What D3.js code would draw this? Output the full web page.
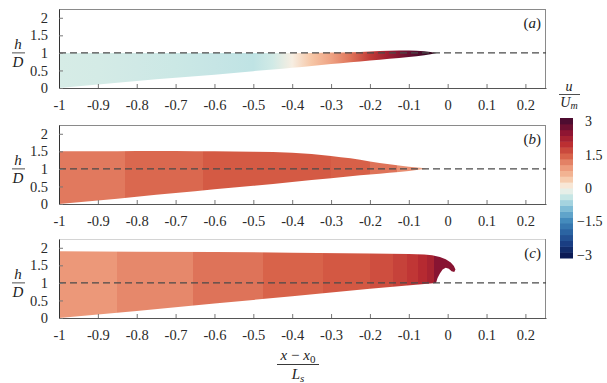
<!DOCTYPE html>
<html>
<head>
<meta charset="utf-8">
<script src="https://cdn.jsdelivr.net/npm/d3@7"></script>
<style>
  body { margin: 0; background: #fff; }
  svg { display: block; }
</style>
</head>
<body>
<div id="chart"></div>
<script>
// ---- tick values / labels
const xTicks = [-1, -0.9, -0.8, -0.7, -0.6, -0.5, -0.4, -0.3, -0.2, -0.1, 0, 0.1, 0.2]
const xTickLabels = ["-1", "-0.9", "-0.8", "-0.7", "-0.6", "-0.5", "-0.4", "-0.3", "-0.2", "-0.1", "0", "0.1", "0.2"]
const yTicks = [0, 0.5, 1, 1.5, 2]
const yTickLabels = ["0", "0.5", "1", "1.5", "2"]
const cbarTicks = [3, 1.5, 0, -1.5, -3]
const cbarLabels = ["3", "1.5", "0", "\u22121.5", "\u22123"]
const panelLabels = ["a", "b", "c"]

// ---- panel (a): wedge, smooth u along x
const aX   = [-1, -0.9, -0.8, -0.7, -0.6, -0.5, -0.45, -0.4, -0.35, -0.3, -0.25, -0.2, -0.15, -0.1, -0.06, -0.028]
const aTop = [1, 1, 1, 1, 1, 1, 1, 1, 1, 1.01, 1.02, 1.04, 1.06, 1.07, 1.05, 1.0]
const aBot = [0, 0.1, 0.2, 0.29, 0.38, 0.48, 0.53, 0.58, 0.63, 0.68, 0.73, 0.78, 0.83, 0.88, 0.93, 1.0]
const aU   = [-0.26, -0.28, -0.31, -0.35, -0.4, -0.46, -0.3, 0.05, 0.45, 0.85, 1.3, 1.85, 2.35, 2.8, 3.1, 3.25]

// ---- panel (b)
const bX   = [-1, -0.9, -0.8, -0.7, -0.6, -0.5, -0.4, -0.3, -0.25, -0.2, -0.15, -0.1, -0.07, -0.054]
const bTop = [1.5, 1.5, 1.51, 1.51, 1.5, 1.49, 1.46, 1.37, 1.3, 1.21, 1.13, 1.06, 1.03, 1.0]
const bBot = [0, 0.1, 0.21, 0.31, 0.42, 0.52, 0.63, 0.73, 0.79, 0.84, 0.89, 0.94, 0.98, 1.0]
const bBands = [-1, -0.83, -0.63, -0.3, -0.2, -0.13, -0.08, -0.054]
const bU     = [1.25, 1.4, 1.53, 1.47, 1.3, 1.05, 0.8]

// ---- panel (c): outline (top, curl at the front, bottom)
const cOutX = [-1, -0.8, -0.6, -0.4, -0.2, -0.1, -0.06, -0.04, -0.02, -0.005, 0.008, 0.016, 0.02, 0.017,
               0.01, 0.003, -0.005, -0.013, -0.02, -0.026, -0.03, -0.2, -0.4, -0.6, -0.8, -1]
const cOutH = [1.9, 1.89, 1.88, 1.86, 1.84, 1.82, 1.81, 1.79, 1.74, 1.67, 1.58, 1.48, 1.38, 1.31,
               1.33, 1.4, 1.43, 1.38, 1.27, 1.14, 1.0, 0.83, 0.62, 0.41, 0.2, 0]
const cBands = [-1, -0.85, -0.655, -0.475, -0.32, -0.2, -0.14, -0.105, -0.077, -0.054, -0.035, 0.025]
const cU     = [0.97, 1.12, 1.3, 1.45, 1.55, 1.65, 1.78, 1.9, 2.05, 2.2, 2.55]

// colour map (diverging)
const cmapU = [-3, -2.5, -2, -1.5, -1, -0.5, -0.25, 0, 0.25, 0.5, 1, 1.5, 2, 2.5, 3, 3.3]
const cmapC = ["#0b1a55", "#1a3e83", "#2a62a0", "#3e86b9", "#73b5d3", "#bae1e4", "#d7ece6", "#f7f3ea",
               "#f8dcc4", "#f5c09e", "#eb9577", "#d65d45", "#ba2c31", "#8e1532", "#4d0c30", "#2a0818"]

const W = 607, H = 383
const serif = "'Liberation Serif', 'Times New Roman', Times, serif"

const svg = d3.select("#chart").append("svg")
    .attr("width", W)
    .attr("height", H)
const defs = svg.append("defs")

const color = d3.scaleLinear().domain(cmapU).range(cmapC).clamp(true)
const x = d3.scaleLinear().domain([-1, 0.253]).range([59, 546])

const panels = [
    { top: 9, bottom: 88 },
    { top: 125, bottom: 204 },
    { top: 239, bottom: 318 }
]
panels.forEach(p => {
    p.y = d3.scaleLinear().domain([0, 2.25]).range([p.bottom, p.top])
})

// smooth gradient from point values
function smoothGradient(id, xs, us) {
    const x1 = x(xs[0]), x2 = x(xs[xs.length - 1])
    const g = defs.append("linearGradient").attr("id", id)
        .attr("gradientUnits", "userSpaceOnUse")
        .attr("x1", x1).attr("x2", x2).attr("y1", 0).attr("y2", 0)
    xs.forEach((v, i) => {
        g.append("stop").attr("offset", (x(v) - x1) / (x2 - x1)).attr("stop-color", color(us[i]))
    })
}
// banded gradient (hard steps)
function bandGradient(id, bands, us) {
    const x1 = x(bands[0]), x2 = x(bands[bands.length - 1])
    const g = defs.append("linearGradient").attr("id", id)
        .attr("gradientUnits", "userSpaceOnUse")
        .attr("x1", x1).attr("x2", x2).attr("y1", 0).attr("y2", 0)
    us.forEach((u, i) => {
        g.append("stop").attr("offset", (x(bands[i]) - x1) / (x2 - x1)).attr("stop-color", color(u))
        g.append("stop").attr("offset", (x(bands[i + 1]) - x1) / (x2 - x1)).attr("stop-color", color(u))
    })
}

smoothGradient("gradA", aX, aU)
bandGradient("gradB", bBands, bU)
bandGradient("gradC", cBands, cU)

// draw fills
const ya = panels[0].y, yb = panels[1].y, yc = panels[2].y
const areaA = d3.area()
    .x(i => x(aX[i]))
    .y0(i => ya(aBot[i]))
    .y1(i => ya(aTop[i]))
    .curve(d3.curveMonotoneX)
svg.append("path").attr("d", areaA(d3.range(aX.length))).attr("fill", "url(#gradA)")

const areaB = d3.area()
    .x(i => x(bX[i]))
    .y0(i => yb(bBot[i]))
    .y1(i => yb(bTop[i]))
    .curve(d3.curveMonotoneX)
svg.append("path").attr("d", areaB(d3.range(bX.length))).attr("fill", "url(#gradB)")

const lineC = d3.line()
    .x(i => x(cOutX[i]))
    .y(i => yc(cOutH[i]))
svg.append("path").attr("d", lineC(d3.range(cOutX.length)) + "Z").attr("fill", "url(#gradC)")

// frames, axes, dashed h/D = 1
panels.forEach((p, k) => {
    const g = svg.append("g")
    // top + right border
    g.append("line")
        .attr("x1", x.range()[0]).attr("x2", x.range()[1])
        .attr("y1", p.top + 0.5).attr("y2", p.top + 0.5)
        .attr("stroke", k === 2 ? "#d4d4d4" : "#8a8a8a")
    g.append("line")
        .attr("x1", x.range()[1] - 0.5).attr("x2", x.range()[1] - 0.5)
        .attr("y1", p.top).attr("y2", p.bottom)
        .attr("stroke", "#8a8a8a")

    // dashed line
    g.append("line")
        .attr("x1", x.range()[0]).attr("x2", x.range()[1])
        .attr("y1", p.y(1)).attr("y2", p.y(1))
        .attr("stroke", "#4a4a4a")
        .attr("stroke-width", 1.2)
        .attr("stroke-dasharray", "7,4")

    const xAxis = d3.axisBottom(x)
        .tickValues(xTicks)
        .tickFormat((d, i) => xTickLabels[i])
        .tickSize(-4).tickSizeOuter(0).tickPadding(12)
    const xa = g.append("g")
        .attr("transform", "translate(0," + p.bottom + ")")
        .call(xAxis)
    xa.select(".domain").attr("stroke", "#555")
    xa.selectAll(".tick line").attr("stroke", "#777")
    xa.selectAll("text").attr("font-family", serif).attr("font-size", 14.5).attr("fill", "#2a2a2a")

    const yAxis = d3.axisLeft(p.y)
        .tickValues(yTicks)
        .tickFormat((d, i) => yTickLabels[i])
        .tickSize(-4).tickSizeOuter(0).tickPadding(11)
    const ya_ = g.append("g")
        .attr("transform", "translate(" + x.range()[0] + ",0)")
        .call(yAxis)
    ya_.select(".domain").attr("stroke", "#333")
    ya_.selectAll(".tick line").attr("stroke", "#777")
    ya_.selectAll("text").attr("font-family", serif).attr("font-size", 14.5).attr("fill", "#2a2a2a")

    // h / D label
    const yl = p.y(1)
    g.append("text").attr("x", 18).attr("y", yl - 4)
        .attr("text-anchor", "middle")
        .attr("font-family", serif).attr("font-style", "italic").attr("font-size", 15)
        .attr("fill", "#222").text("h")
    g.append("line").attr("x1", 12).attr("x2", 25).attr("y1", yl).attr("y2", yl)
        .attr("stroke", "#222").attr("stroke-width", 0.8)
    g.append("text").attr("x", 18).attr("y", yl + 14)
        .attr("text-anchor", "middle")
        .attr("font-family", serif).attr("font-style", "italic").attr("font-size", 15)
        .attr("fill", "#222").text("D")

    // panel label
    const lab = g.append("text").attr("x", 541).attr("y", p.top + 19)
        .attr("text-anchor", "end")
        .attr("font-family", serif).attr("font-size", 15).attr("fill", "#222")
    lab.append("tspan").text("(")
    lab.append("tspan").attr("font-style", "italic").text(panelLabels[k])
    lab.append("tspan").text(")")
})

// x label: (x - x0) / Ls
const xl = svg.append("g").attr("font-family", serif).attr("fill", "#222")
const xlT = xl.append("text").attr("x", 298).attr("y", 360)
    .attr("text-anchor", "middle").attr("font-size", 15)
xlT.append("tspan").attr("font-style", "italic").text("x")
xlT.append("tspan").text(" \u2212 ")
xlT.append("tspan").attr("font-style", "italic").text("x")
xlT.append("tspan").attr("font-size", 11).attr("dy", 3).text("0")
xl.append("line").attr("x1", 277).attr("x2", 319).attr("y1", 364.5).attr("y2", 364.5)
    .attr("stroke", "#222").attr("stroke-width", 0.9)
const xlB = xl.append("text").attr("x", 298).attr("y", 379)
    .attr("text-anchor", "middle").attr("font-size", 15)
xlB.append("tspan").attr("font-style", "italic").text("L")
xlB.append("tspan").attr("font-style", "italic").attr("font-size", 11).attr("dy", 3).text("s")

// colour bar
const cb = d3.scaleLinear().domain([-3.15, 3.15]).range([258, 118])
const nSteps = 24
const stepEdges = d3.range(nSteps + 1).map(i => -3.15 + i * 6.3 / nSteps)
svg.append("g").selectAll("rect")
    .data(d3.range(nSteps))
    .join("rect")
    .attr("x", 560)
    .attr("width", 13)
    .attr("y", i => cb(stepEdges[i + 1]))
    .attr("height", i => cb(stepEdges[i]) - cb(stepEdges[i + 1]) + 0.5)
    .attr("fill", i => color(Math.max(-3, Math.min(3, (stepEdges[i] + stepEdges[i + 1]) / 2))))

svg.append("g").selectAll("text")
    .data(cbarTicks)
    .join("text")
    .attr("x", d => d < 0 ? 577 : 585)
    .attr("y", d => cb(d))
    .attr("dy", "0.35em")
    .attr("font-family", serif).attr("font-size", 14).attr("fill", "#222")
    .text((d, i) => cbarLabels[i])

// colour bar title u / U_m
const ct = svg.append("g").attr("font-family", serif).attr("fill", "#222").attr("font-style", "italic")
ct.append("text").attr("x", 569).attr("y", 91).attr("text-anchor", "middle").attr("font-size", 14).text("u")
ct.append("line").attr("x1", 559).attr("x2", 580).attr("y1", 94.5).attr("y2", 94.5)
    .attr("stroke", "#222").attr("stroke-width", 0.8)
const um = ct.append("text").attr("x", 569).attr("y", 107).attr("text-anchor", "middle").attr("font-size", 14)
um.append("tspan").text("U")
um.append("tspan").attr("font-size", 10).attr("dy", 2).text("m")
</script>
</body>
</html>
